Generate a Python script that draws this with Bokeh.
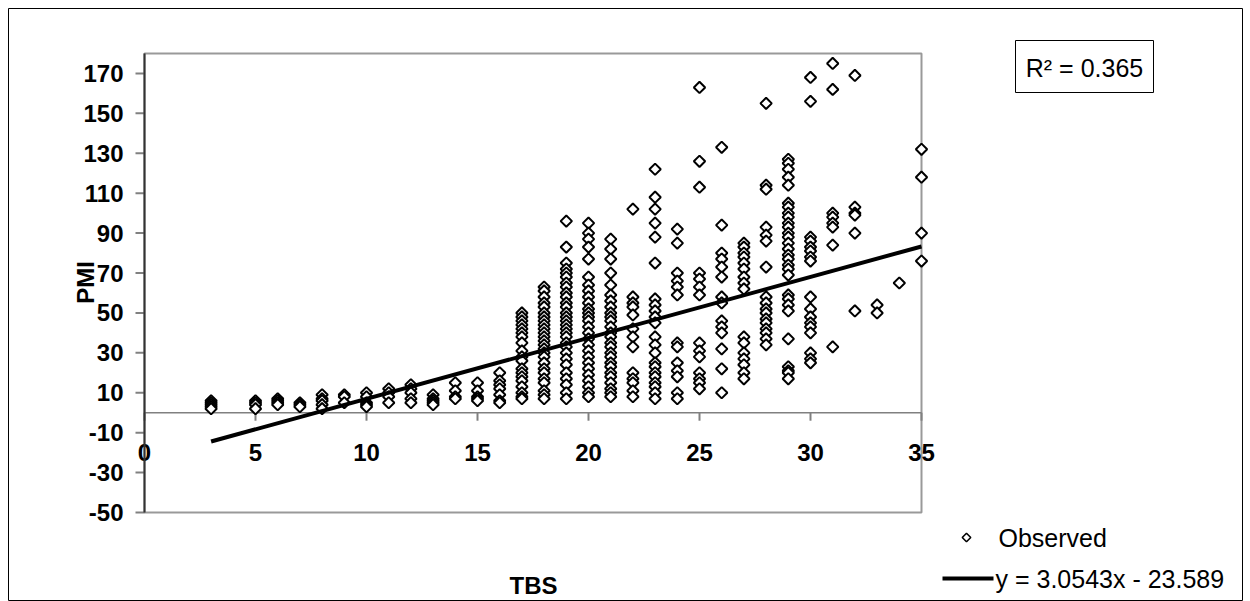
import math
from bokeh.plotting import figure
from bokeh.models import Range1d
from bokeh.core.properties import value
from bokeh.embed import file_html
from bokeh.resources import INLINE

# ---- data: PMI values observed at each TBS value ----
pmi_tbs3 = [6, 5, 4, 3, 2]
pmi_tbs5 = [6, 5, 4, 2]
pmi_tbs6 = [7, 6, 5, 4]
pmi_tbs7 = [5, 4, 3]
pmi_tbs8 = [9, 7, 6, 4, 2]
pmi_tbs9 = [9, 8, 5]
pmi_tbs10 = [10, 8, 5, 4, 3]
pmi_tbs11 = [12, 10, 8, 5]
pmi_tbs12 = [14, 12, 10, 7, 5]
pmi_tbs13 = [9, 7, 6, 5, 4]
pmi_tbs14 = [15, 11, 8, 7]
pmi_tbs15 = [15, 11, 8, 7, 6]
pmi_tbs16 = [20, 16, 14, 12, 9, 6, 5]
pmi_tbs17 = [50, 48, 46, 44, 42, 40, 38, 35, 31, 28, 26, 22, 20, 18, 16, 13, 10, 8, 7]
pmi_tbs18 = [63, 61, 58, 55, 53, 50, 48, 46, 44, 42, 40, 38, 36, 34, 32, 30, 28, 25,
             22, 20, 17, 15, 11, 9, 7]
pmi_tbs19 = [96, 83, 75, 72, 70, 68, 65, 63, 60, 58, 55, 53, 50, 48, 46, 44, 42, 40,
             38, 35, 33, 30, 27, 24, 20, 17, 14, 10, 7]
pmi_tbs20 = [95, 90, 87, 83, 77, 68, 64, 61, 58, 55, 52, 50, 48, 46, 43, 40, 37, 34,
             31, 28, 25, 22, 19, 16, 13, 10, 8]
pmi_tbs21 = [87, 82, 77, 70, 64, 59, 56, 53, 50, 48, 46, 43, 40, 38, 35, 33, 30, 28,
             25, 23, 20, 18, 15, 12, 10, 8]
pmi_tbs22 = [102, 58, 55, 53, 49, 42, 38, 33, 20, 17, 15, 11, 8]
pmi_tbs23 = [122, 108, 102, 95, 88, 75, 57, 54, 51, 48, 45, 38, 34, 30, 25, 23, 20,
             18, 15, 13, 10, 7]
pmi_tbs24 = [92, 85, 70, 66, 63, 59, 35, 33, 25, 21, 18, 10, 7]
pmi_tbs25 = [163, 126, 113, 70, 67, 63, 59, 35, 31, 28, 20, 17, 15, 12]
pmi_tbs26 = [133, 94, 80, 77, 73, 68, 58, 55, 46, 43, 40, 32, 22, 10]
pmi_tbs27 = [85, 83, 80, 78, 75, 72, 68, 65, 62, 38, 35, 30, 27, 24, 20, 17]
pmi_tbs28 = [155, 114, 112, 93, 89, 86, 73, 58, 55, 52, 50, 47, 45, 42, 40, 37, 34]
pmi_tbs29 = [127, 125, 122, 118, 114, 105, 103, 100, 98, 95, 93, 90, 88, 85, 82, 79,
             77, 74, 72, 69, 59, 57, 54, 51, 37, 23, 21, 20, 17]
pmi_tbs30 = [168, 156, 88, 86, 83, 81, 78, 76, 58, 52, 48, 45, 43, 40, 30, 27, 25]
pmi_tbs31 = [175, 162, 100, 98, 95, 93, 84, 33]
pmi_tbs32 = [169, 103, 100, 99, 90, 51]
pmi_tbs33 = [54, 50]
pmi_tbs34 = [65]
pmi_tbs35 = [132, 118, 90, 76]

tbs_levels = [3, 5, 6, 7, 8, 9, 10, 11, 12, 13, 14, 15, 16, 17, 18, 19, 20, 21, 22,
              23, 24, 25, 26, 27, 28, 29, 30, 31, 32, 33, 34, 35]
pmi_columns = [pmi_tbs3, pmi_tbs5, pmi_tbs6, pmi_tbs7, pmi_tbs8, pmi_tbs9, pmi_tbs10,
               pmi_tbs11, pmi_tbs12, pmi_tbs13, pmi_tbs14, pmi_tbs15, pmi_tbs16,
               pmi_tbs17, pmi_tbs18, pmi_tbs19, pmi_tbs20, pmi_tbs21, pmi_tbs22,
               pmi_tbs23, pmi_tbs24, pmi_tbs25, pmi_tbs26, pmi_tbs27, pmi_tbs28,
               pmi_tbs29, pmi_tbs30, pmi_tbs31, pmi_tbs32, pmi_tbs33, pmi_tbs34,
               pmi_tbs35]

slope = 3.0543
intercept = -23.589
r_squared = 0.365

x_min, x_max = 0, 35
y_min, y_max = -50, 180
x_ticks = [0, 5, 10, 15, 20, 25, 30, 35]
y_ticks = [-50, -30, -10, 10, 30, 50, 70, 90, 110, 130, 150, 170]
x_title = "TBS"
y_title = "PMI"
series_name = "Observed"

tbs = []
pmi = []
for t, vals in zip(tbs_levels, pmi_columns):
    tbs += [t] * len(vals)
    pmi += vals

fit_x = [min(tbs), max(tbs)]
fit_y = [slope * v + intercept for v in fit_x]

# ---- layout (page pixels) ----
W, H = 1250, 601
CH_L, CH_T, CH_R, CH_B = 8, 8, 1242, 601          # chart area (outer border)
PA_L, PA_T, PA_R, PA_B = 144, 53, 921, 512        # plot area
sx = (PA_R - PA_L) / (x_max - x_min)
sy = (PA_B - PA_T) / (y_max - y_min)


def dx(px):
    return x_min + (px - PA_L) / sx


def dy(py):
    return y_min + (PA_B - py) / sy


FONT = value("Liberation Sans")

p = figure(width=W, height=H, x_range=Range1d(dx(CH_L), dx(CH_R)),
           y_range=Range1d(dy(CH_B), dy(CH_T)),
           x_axis_location=None, y_axis_location=None,
           output_backend="svg", toolbar_location=None,
           min_border_left=CH_L, min_border_top=CH_T,
           min_border_right=W - CH_R, min_border_bottom=H - CH_B,
           background_fill_color="white", border_fill_color="white")
p.grid.visible = False
p.outline_line_color = "#000000"
p.outline_line_width = 1

# plot-area border
p.quad(left=[x_min], right=[x_max], bottom=[y_min], top=[y_max],
       fill_color="white", line_color="#999999", line_width=2)

# x axis at PMI = 0
p.segment(x0=[x_min], y0=[0], x1=[x_max], y1=[0], line_color="#808080", line_width=1.5)
p.segment(x0=x_ticks, y0=[0] * len(x_ticks), x1=x_ticks, y1=[-8 / sy] * len(x_ticks),
          line_color="#808080", line_width=2)
p.text(x=x_ticks, y=[dy(452)] * len(x_ticks), text=[str(t) for t in x_ticks],
       text_align="center", text_baseline="middle", text_font=FONT,
       text_font_style="bold", text_font_size="24px", text_color="black")

# y axis
p.segment(x0=[-9 / sx] * len(y_ticks), y0=y_ticks, x1=[0] * len(y_ticks), y1=y_ticks,
          line_color="#808080", line_width=2)
p.segment(x0=[x_min], y0=[y_min], x1=[x_min], y1=[y_max], line_color="#333333",
          line_width=2)
p.text(x=[dx(123)] * len(y_ticks), y=y_ticks, text=[str(t) for t in y_ticks],
       text_align="right", text_baseline="middle", text_font=FONT,
       text_font_style="bold", text_font_size="24px", text_color="black")

# data and trend line
p.scatter(tbs, pmi, marker="square", angle=math.pi / 4, size=8,
          fill_color="white", line_color="black", line_width=2)
p.line(fit_x, fit_y, line_color="black", line_width=4)

# axis titles
p.text(x=[dx(533)], y=[dy(585)], text=[x_title], text_align="center",
       text_baseline="middle", text_font=FONT, text_font_style="bold",
       text_font_size="24px", text_color="black")
p.text(x=[dx(85)], y=[dy(282)], text=[y_title], angle=math.pi / 2,
       text_align="center", text_baseline="middle", text_font=FONT,
       text_font_style="bold", text_font_size="24px", text_color="black")

# R^2 box
p.quad(left=[dx(1015)], right=[dx(1153)], top=[dy(40)], bottom=[dy(92)],
       fill_color="white", line_color="#000000", line_width=1)
p.text(x=[dx(1084)], y=[dy(67)], text=[f"R\u00b2 = {r_squared}"], text_align="center",
       text_baseline="middle", text_font=FONT, text_font_size="25px",
       text_color="black")

# legend
p.scatter([dx(966)], [dy(537)], marker="square", angle=math.pi / 4, size=6,
          fill_color="white", line_color="black", line_width=1.6)
p.text(x=[dx(998)], y=[dy(537)], text=[series_name], text_align="left",
       text_baseline="middle", text_font=FONT, text_font_size="25px",
       text_color="black")
p.segment(x0=[dx(942)], y0=[dy(578)], x1=[dx(993)], y1=[dy(578)],
          line_color="black", line_width=4)
p.text(x=[dx(995)], y=[dy(578)], text=[f"y = {slope}x - {abs(intercept)}"],
       text_align="left", text_baseline="middle", text_font=FONT,
       text_font_size="25px", text_color="black")

open("out.html", "w").write(file_html(p, INLINE))
